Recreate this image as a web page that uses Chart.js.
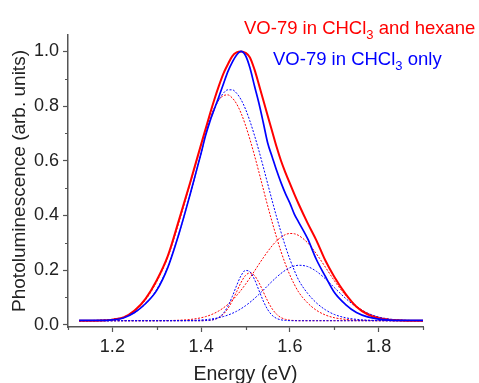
<!DOCTYPE html>
<html>
<head>
<meta charset="utf-8">
<script src="https://cdn.jsdelivr.net/npm/chart.js@4.4.1/dist/chart.umd.min.js"></script>
<style>
  html, body { margin: 0; padding: 0; background: #fff; }
  #wrap { width: 479px; height: 383px; position: relative; }
</style>
</head>
<body>
<div id="wrap"><canvas id="chartPL"></canvas></div>
<script>

const energy = [
  1.125, 1.15, 1.175, 1.2, 1.225, 1.25, 1.275, 1.3, 1.325, 1.35, 1.375,
  1.40, 1.41, 1.42, 1.43, 1.44, 1.45, 1.46, 1.47, 1.48, 1.49, 1.50,
  1.51, 1.52, 1.53, 1.54, 1.55, 1.56, 1.57, 1.58, 1.59, 1.60, 1.61, 1.62,
  1.64, 1.66, 1.68, 1.70, 1.725, 1.75, 1.775, 1.80, 1.825, 1.85, 1.875, 1.90
];

// measured, CHCl3 + hexane
const redMeasured = [
  0.015, 0.015, 0.016, 0.019, 0.027, 0.052, 0.096, 0.163, 0.252, 0.383, 0.519,
  0.660, 0.716, 0.772, 0.825, 0.874, 0.918, 0.952, 0.982, 0.996, 1.000, 0.995,
  0.978, 0.935, 0.880, 0.822, 0.765, 0.708, 0.651, 0.600, 0.557, 0.517, 0.478, 0.441,
  0.372, 0.308, 0.235, 0.176, 0.114, 0.066, 0.038, 0.024, 0.018, 0.016, 0.015, 0.015
];
// measured, CHCl3 only
const blueMeasured = [
  0.016, 0.016, 0.016, 0.018, 0.025, 0.045, 0.078, 0.126, 0.210, 0.333, 0.476,
  0.628, 0.692, 0.745, 0.790, 0.834, 0.880, 0.925, 0.960, 0.987, 1.000, 0.985,
  0.940, 0.875, 0.812, 0.740, 0.665, 0.615, 0.565, 0.520, 0.480, 0.445, 0.405, 0.375,
  0.315, 0.238, 0.177, 0.119, 0.075, 0.045, 0.029, 0.021, 0.017, 0.016, 0.016, 0.016
];

// fitted components (red)
const redMain = [
  0.015, 0.0155, 0.017, 0.020, 0.028, 0.050, 0.092, 0.158, 0.248, 0.375, 0.515,
  0.656, 0.710, 0.757, 0.795, 0.823, 0.838, 0.841, 0.830, 0.808, 0.774, 0.730,
  0.678, 0.621, 0.560, 0.497, 0.435, 0.376, 0.320, 0.268, 0.222, 0.182, 0.148, 0.119,
  0.080, 0.053, 0.036, 0.026, 0.020, 0.017, 0.016, 0.015, 0.015, 0.015, 0.015, 0.015
];
const redSmall = [
  0.015, 0.015, 0.015, 0.015, 0.015, 0.015, 0.015, 0.015, 0.015, 0.015, 0.015,
  0.015, 0.0157, 0.0169, 0.020, 0.0265, 0.0387, 0.0586, 0.087, 0.121, 0.155, 0.1805,
  0.190, 0.1805, 0.155, 0.121, 0.087, 0.0586, 0.0387, 0.0265, 0.020, 0.0169, 0.0157, 0.015,
  0.015, 0.015, 0.015, 0.015, 0.015, 0.015, 0.015, 0.015, 0.015, 0.015, 0.015, 0.015
];
const redBroad = [
  0.015, 0.015, 0.015, 0.015, 0.015, 0.015, 0.015, 0.015, 0.0156, 0.0167, 0.0195,
  0.0258, 0.030, 0.0353, 0.0423, 0.051, 0.0616, 0.0744, 0.0896, 0.107, 0.1267, 0.1484,
  0.1717, 0.196, 0.221, 0.245, 0.268, 0.289, 0.307, 0.320, 0.330, 0.334, 0.333, 0.3265,
  0.300, 0.259, 0.211, 0.162, 0.109, 0.069, 0.043, 0.028, 0.0206, 0.0171, 0.0157, 0.015
];

// fitted components (blue)
const blueMain = [
  0.015, 0.0156, 0.0169, 0.020, 0.028, 0.0445, 0.077, 0.130, 0.212, 0.333, 0.475,
  0.628, 0.694, 0.745, 0.789, 0.8235, 0.847, 0.8595, 0.8595, 0.847, 0.8235, 0.789,
  0.745, 0.694, 0.638, 0.578, 0.516, 0.4545, 0.395, 0.339, 0.287, 0.240, 0.199, 0.163,
  0.115, 0.080, 0.055, 0.038, 0.026, 0.020, 0.017, 0.016, 0.015, 0.015, 0.015, 0.015
];
const blueSmall = [
  0.015, 0.015, 0.015, 0.015, 0.015, 0.015, 0.015, 0.015, 0.015, 0.015, 0.015,
  0.015, 0.0155, 0.0166, 0.0198, 0.0272, 0.0419, 0.067, 0.1027, 0.1437, 0.1798, 0.1989,
  0.1939, 0.1668, 0.1272, 0.0873, 0.0557, 0.0349, 0.0235, 0.0182, 0.016, 0.0153, 0.015, 0.015,
  0.015, 0.015, 0.015, 0.015, 0.015, 0.015, 0.015, 0.015, 0.015, 0.015, 0.015, 0.015
];
const blueBroad = [
  0.015, 0.015, 0.015, 0.015, 0.015, 0.015, 0.015, 0.015, 0.015, 0.0153, 0.016,
  0.0177, 0.019, 0.0207, 0.0231, 0.0262, 0.0302, 0.0354, 0.0418, 0.0496, 0.0589, 0.0698,
  0.0822, 0.096, 0.111, 0.1268, 0.143, 0.159, 0.1742, 0.188, 0.1997, 0.2089, 0.2151, 0.2178,
  0.213, 0.1953, 0.1682, 0.1365, 0.0975, 0.0653, 0.0425, 0.0285, 0.021, 0.0174, 0.0158, 0.015
];

const xTicksMin = 1.1, xTicksMax = 1.9;
const yMin = -0.008, yMax = 1.06;

const RED = 'rgb(255,0,0)';
const BLUE = 'rgb(0,0,255)';
const AXIS = '#555';
const FONT = '"Liberation Sans", Arial, sans-serif';

const pts = (vals) => energy.map((e, i) => ({ x: e, y: vals[i] }));
const isMajor = (v) => Math.round(v * 10) % 2 === 0;

function line(label, vals, color, width, dash) {
  return {
    label,
    data: pts(vals),
    borderColor: color,
    borderWidth: width,
    borderDash: dash || [],
    pointRadius: 0,
    fill: false,
    cubicInterpolationMode: 'monotone',
  };
}

// shorter unlabeled ticks between the labeled ones
const minorTicks = {
  id: 'minorTicks',
  afterDraw(chart) {
    const { ctx, chartArea, scales } = chart;
    ctx.save();
    ctx.strokeStyle = AXIS;
    ctx.lineWidth = 1.2;
    ctx.beginPath();
    scales.x.ticks.forEach(t => {
      if (isMajor(t.value)) return;
      const px = Math.round(scales.x.getPixelForValue(t.value)) + 0.5;
      ctx.moveTo(px, chartArea.bottom);
      ctx.lineTo(px, chartArea.bottom + 3);
    });
    scales.y.ticks.forEach(t => {
      if (isMajor(t.value)) return;
      const py = Math.round(scales.y.getPixelForValue(t.value)) + 0.5;
      ctx.moveTo(chartArea.left, py);
      ctx.lineTo(chartArea.left - 3, py);
    });
    ctx.stroke();
    ctx.restore();
  }
};

// the two coloured captions, with subscript 3
const captions = {
  id: 'captions',
  afterDraw(chart) {
    const ctx = chart.ctx;
    const draw = (x, y, color, pre, post) => {
      ctx.save();
      ctx.fillStyle = color;
      ctx.textBaseline = 'alphabetic';
      ctx.font = '18.5px ' + FONT;
      ctx.fillText(pre, x, y);
      x += ctx.measureText(pre).width;
      ctx.font = '13px ' + FONT;
      ctx.fillText('3', x, y + 5);
      x += ctx.measureText('3').width;
      ctx.font = '18.5px ' + FONT;
      ctx.fillText(post, x, y);
      ctx.restore();
    };
    draw(244, 34, RED, 'VO-79 in CHCl', ' and hexane');
    draw(273, 65, BLUE, 'VO-79 in CHCl', ' only');
  }
};

const tickOpts = {
  color: '#222',
  font: { family: FONT, size: 18 },
  autoSkip: false,
  maxRotation: 0,
  stepSize: 0.1,
  includeBounds: false,
};

new Chart(document.getElementById('chartPL'), {
  type: 'line',
  data: {
    datasets: [
      line('VO-79 in CHCl3 only', blueMeasured, BLUE, 1.7),
      line('VO-79 in CHCl3 and hexane', redMeasured, RED, 2),
      line('blue peak 1', blueMain, BLUE, 1, [2, 1.5]),
      line('blue peak 2', blueSmall, BLUE, 1, [2, 1.5]),
      line('blue peak 3', blueBroad, BLUE, 1, [2, 1.5]),
      line('red peak 1', redMain, RED, 1, [2, 1.5]),
      line('red peak 2', redSmall, RED, 1, [2, 1.5]),
      line('red peak 3', redBroad, RED, 1, [2, 1.5]),
    ]
  },
  options: {
    responsive: true,
    maintainAspectRatio: false,
    animation: false,
    layout: { padding: { top: 35, right: 56, left: 0, bottom: 0 } },
    plugins: {
      legend: { display: false },
      tooltip: { enabled: false },
    },
    scales: {
      x: {
        type: 'linear',
        min: xTicksMin,
        max: xTicksMax,
        border: { color: AXIS, width: 1.5 },
        grid: {
          drawOnChartArea: false,
          tickLength: 5,
          tickWidth: 1.2,
          tickColor: (c) => (c.tick && isMajor(c.tick.value)) ? AXIS : 'rgba(0,0,0,0)',
        },
        ticks: {
          ...tickOpts,
          padding: 4,
          callback: (v) => {
            const t = Math.round(v * 10);
            return (t % 2 === 0) ? (t / 10).toFixed(1) : '';
          }
        },
        title: {
          display: true,
          text: 'Energy (eV)',
          color: '#222',
          font: { family: FONT, size: 19.5, lineHeight: 1 },
          padding: { top: 0, bottom: -1.5 },
        },
        afterFit: (s) => { s.height = 56; },
      },
      y: {
        min: yMin,
        max: yMax,
        border: { color: AXIS, width: 1.5 },
        grid: {
          drawOnChartArea: false,
          tickLength: 5,
          tickWidth: 1.2,
          tickColor: (c) => (c.tick && isMajor(c.tick.value)) ? AXIS : 'rgba(0,0,0,0)',
        },
        ticks: {
          ...tickOpts,
          padding: 4,
          callback: (v) => {
            const t = Math.round(v * 10);
            return (t % 2 === 0) ? (t / 10).toFixed(1) : '';
          }
        },
        title: {
          display: true,
          text: 'Photoluminescence (arb. units)',
          color: '#222',
          font: { family: FONT, size: 19, lineHeight: 1.2 },
          padding: { top: 8, bottom: 0 },
        },
        afterFit: (s) => { s.width = 68; },
      }
    }
  },
  plugins: [minorTicks, captions]
});
</script>
</body>
</html>
